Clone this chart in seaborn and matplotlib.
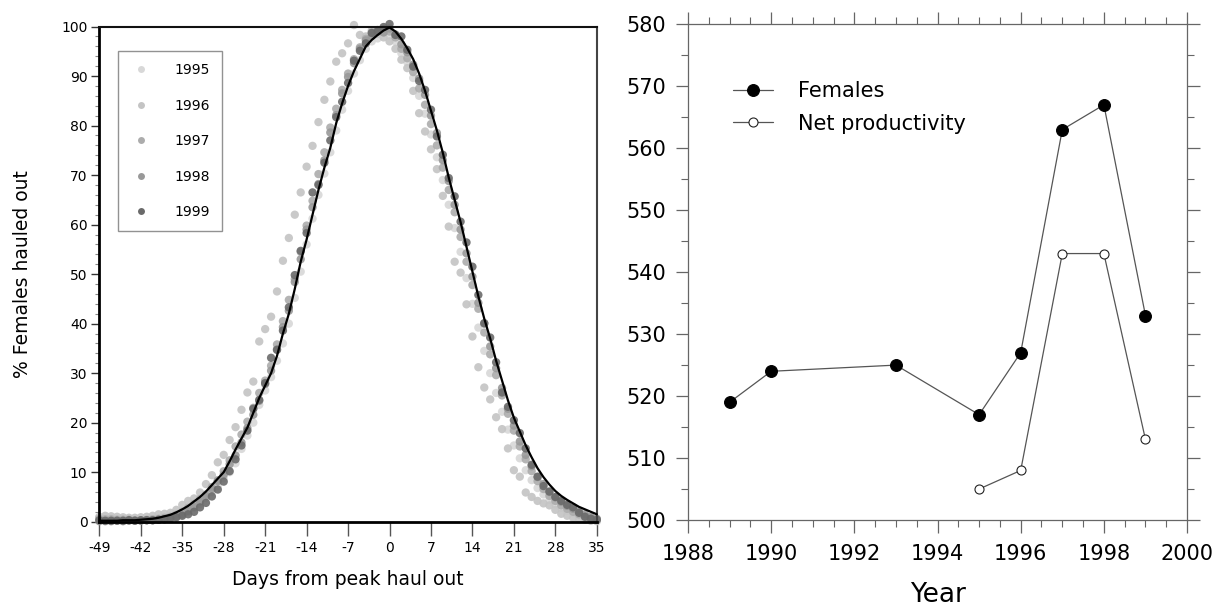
import matplotlib
matplotlib.use("Agg")
import matplotlib.pyplot as plt
from matplotlib.lines import Line2D
from matplotlib.ticker import MultipleLocator, FixedLocator
import numpy as np
import pandas as pd
import seaborn as sns

# ---------------- data ----------------
days = list(range(-49, 36))

mean_pct = [
    0.2, 0.2, 0.2, 0.2, 0.3, 0.3, 0.3, 0.4, 0.5, 0.6, 0.8, 1.1, 1.4, 1.9,
    2.5, 3.2, 4.1, 5.0, 6.1, 7.4, 8.7, 10.0, 12.2, 14.6, 16.8, 19.0, 22.0, 25.0,
    27.5, 30.0, 33.5, 38.0, 42.0, 47.0, 52.5, 57.0, 62.0, 67.0, 71.5, 75.5, 80.5, 84.5,
    88.0, 91.0, 93.5, 96.0, 97.3, 98.3, 99.2, 99.8, 99.0, 97.5, 95.6, 93.4, 90.5, 87.0,
    83.0, 79.0, 74.5, 69.5, 65.0, 60.5, 55.5, 50.5, 45.5, 41.0, 37.0, 32.5, 28.5, 24.5,
    21.0, 18.2, 15.4, 13.0, 10.8, 9.0, 7.5, 6.2, 5.2, 4.4, 3.7, 3.0, 2.5, 2.0, 1.5,
]

pct_1995 = [
    0.8, 0.9, 0.7, 0.6, 0.5, 0.5, 0.4, 0.3, 0.3, 0.3, 0.4, 0.5, 0.6, 0.9,
    1.4, 2.0, 2.8, 3.6, 4.8, 6.0, 7.2, 8.8, 10.0, 11.8, 14.7, 17.4, 20.0, 23.6,
    26.5, 29.2, 32.5, 36.0, 40.0, 45.2, 50.5, 56.0, 61.2, 66.0, 70.3, 74.6, 79.0, 83.2,
    87.0, 90.5, 93.2, 95.5, 97.0, 97.6, 98.8, 98.2, 97.0, 94.6, 92.8, 89.6, 86.0, 82.4,
    78.2, 73.6, 69.0, 64.0, 59.3, 54.5, 49.2, 44.0, 39.2, 34.5, 30.0, 26.0, 22.2, 18.6,
    15.4, 12.8, 10.4, 8.4, 6.8, 5.5, 4.4, 3.5, 2.8, 2.2, 1.7, 1.3, 0.9, 0.6, 0.4,
]

pct_1996 = [
    1.0, 1.2, 1.1, 1.0, 0.9, 0.8, 0.8, 0.9, 1.0, 1.2, 1.5, 1.6, 1.8, 2.4,
    3.4, 4.2, 4.7, 5.9, 7.6, 9.4, 12.0, 13.5, 16.5, 19.1, 22.6, 26.1, 28.3, 36.4,
    38.9, 41.4, 46.5, 52.7, 57.3, 62.0, 66.5, 71.7, 75.9, 80.7, 85.2, 88.9, 92.9, 94.6,
    96.6, 100.3, 98.3, 98.0, 99.2, 98.5, 97.8, 97.0, 95.5, 93.3, 91.6, 87.0, 82.5, 78.8,
    75.2, 71.2, 65.8, 59.6, 52.5, 50.3, 43.9, 37.4, 31.2, 27.1, 24.7, 21.1, 18.7, 14.8,
    10.4, 9.1, 5.9, 5.0, 4.2, 3.7, 3.3, 2.4, 1.6, 1.2, 0.8, 0.6, 0.4, 0.2, 0.1,
]

pct_1997 = [
    0.6, 0.5, 0.5, 0.4, 0.4, 0.4, 0.3, 0.3, 0.4, 0.5, 0.6, 0.8, 1.0, 1.4,
    2.0, 2.8, 3.6, 4.6, 5.5, 7.0, 8.4, 10.2, 12.4, 15.2, 17.6, 20.2, 23.0, 26.0,
    28.5, 31.5, 35.8, 40.5, 44.8, 49.0, 54.5, 59.8, 64.8, 70.2, 74.6, 79.6, 83.4, 87.2,
    90.5, 93.4, 95.8, 97.5, 98.8, 99.1, 99.5, 99.0, 97.8, 95.5, 93.6, 90.8, 87.5, 84.2,
    80.3, 76.0, 71.5, 67.0, 62.5, 57.5, 52.5, 47.8, 43.0, 38.2, 33.8, 29.6, 25.5, 21.8,
    18.4, 15.2, 12.6, 10.2, 8.2, 6.6, 5.2, 4.2, 3.3, 2.6, 2.0, 1.5, 1.0, 0.7, 0.4,
]

pct_1998 = [
    0.1, 0.1, 0.1, 0.2, 0.1, 0.2, 0.2, 0.2, 0.3, 0.3, 0.4, 0.5, 0.8, 1.0,
    1.5, 2.2, 3.0, 4.1, 5.2, 6.6, 8.2, 9.5, 11.6, 13.4, 16.0, 18.9, 21.6, 24.4,
    27.8, 30.5, 34.8, 39.3, 42.6, 48.4, 53.0, 59.0, 63.5, 68.2, 73.0, 78.6, 82.1, 86.5,
    89.8, 92.6, 95.5, 97.2, 98.1, 99.3, 98.8, 99.6, 98.4, 96.4, 94.8, 92.3, 89.5, 86.2,
    82.0, 78.5, 73.0, 68.8, 64.0, 59.0, 54.2, 49.5, 44.2, 40.0, 35.4, 31.0, 27.0, 22.8,
    19.4, 16.2, 13.5, 11.2, 9.0, 7.6, 6.0, 4.9, 4.0, 3.2, 2.6, 2.1, 1.5, 1.0, 0.6,
]

pct_1999 = [
    0.3, 0.2, 0.2, 0.2, 0.2, 0.3, 0.2, 0.3, 0.3, 0.3, 0.4, 0.5, 0.7, 0.9,
    1.2, 1.5, 2.0, 2.9, 3.8, 5.1, 6.5, 8.1, 10.2, 12.6, 15.4, 18.4, 22.8, 24.6,
    28.0, 33.1, 34.7, 38.6, 43.3, 49.8, 54.7, 58.3, 66.5, 68.0, 72.5, 77.0, 81.7, 84.8,
    88.6, 93.1, 95.1, 96.6, 98.7, 99.0, 99.9, 100.5, 98.3, 98.0, 95.3, 91.9, 89.0, 87.2,
    83.2, 77.8, 74.1, 69.4, 65.7, 60.6, 56.4, 51.5, 45.8, 40.1, 37.2, 32.2, 26.1, 23.2,
    20.5, 17.9, 14.8, 11.5, 9.1, 7.2, 6.1, 5.0, 4.2, 3.4, 2.9, 1.8, 1.0, 0.6, 0.4,
]

year_labels = ["1995", "1996", "1997", "1998", "1999"]
year_colors = ["#d8d8d8", "#c4c4c4", "#acacac", "#999999", "#6a6a6a"]

survey_years = [1989, 1990, 1993, 1995, 1996, 1997, 1998, 1999]
females = [519, 524, 525, 517, 527, 563, 567, 533]
prod_years = [1995, 1996, 1997, 1998, 1999]
net_productivity = [505, 508, 543, 543, 513]

day_ticks = [-49, -42, -35, -28, -21, -14, -7, 0, 7, 14, 21, 28, 35]

# ---------------- style ----------------
sns.set_style("white")
plt.rcParams["font.family"] = ["DejaVu Sans"]
plt.rcParams["axes.unicode_minus"] = False
plt.rcParams["text.color"] = "black"
plt.rcParams["axes.labelcolor"] = "black"

fig = plt.figure(figsize=(12.13, 6.07), dpi=100)
ax1 = fig.add_axes([0.0819, 0.1405, 0.4101, 0.8158])
ax2 = fig.add_axes([0.5672, 0.1433, 0.4114, 0.8167])

# ---------------- left panel: daily haul-out curves ----------------
haul = pd.DataFrame({
    "day": days * len(year_labels),
    "pct": pct_1995 + pct_1996 + pct_1997 + pct_1998 + pct_1999,
    "year": [y for y in year_labels for _ in days],
})
palette = dict(zip(year_labels, year_colors))
sns.scatterplot(data=haul, x="day", y="pct", hue="year", hue_order=year_labels,
                palette=palette, s=36, linewidth=0, alpha=0.9, legend=False,
                clip_on=False, zorder=2, ax=ax1)
sns.lineplot(x=days, y=mean_pct, color="black", linewidth=1.6, zorder=3,
             clip_on=False, ax=ax1)

ax1.set_xlim(-49, 35)
ax1.set_ylim(0, 100)
ax1.xaxis.set_major_locator(FixedLocator(day_ticks))
ax1.yaxis.set_major_locator(MultipleLocator(10))
ax1.yaxis.set_minor_locator(MultipleLocator(2))
ax1.tick_params(axis="x", which="major", direction="out", length=10, width=1,
                color="#555555", labelsize=10, labelcolor="black", pad=4,
                bottom=True)
ax1.tick_params(axis="y", which="major", direction="out", length=5.5, width=1,
                color="#333333", labelsize=10, labelcolor="black", pad=3,
                left=True)
ax1.tick_params(axis="y", which="minor", direction="out", length=3, width=0.8,
                color="#888888", left=True)
for side, lw, col in [("left", 2.0, "black"), ("bottom", 2.0, "black"),
                      ("top", 1.5, "#111111"), ("right", 1.5, "#444444")]:
    ax1.spines[side].set_visible(True)
    ax1.spines[side].set_linewidth(lw)
    ax1.spines[side].set_color(col)

ax1.set_xlabel("Days from peak haul out", fontsize=13.5)
ax1.set_ylabel("% Females hauled out", fontsize=13.5)
ax1.xaxis.set_label_coords(0.5, -0.098)
ax1.yaxis.set_label_coords(-0.135, 0.5)

year_handles = [Line2D([0], [0], linestyle="none", marker="o", markersize=5,
                       markerfacecolor=c, markeredgewidth=0) for c in year_colors]
leg1 = ax1.legend(year_handles, year_labels, loc="upper left",
                  bbox_to_anchor=(0.0376, 0.950), borderaxespad=0,
                  frameon=True, fancybox=False, edgecolor="#777777",
                  fontsize=10, handlelength=1.6, handletextpad=1.6,
                  labelspacing=1.55, borderpad=0.85)
leg1.get_frame().set_linewidth(1.0)

# ---------------- right panel: yearly counts ----------------
sns.lineplot(x=survey_years, y=females, color="#555555", linewidth=0.9,
             marker="o", markersize=8.5, markerfacecolor="black",
             markeredgecolor="black", markeredgewidth=0.8, label="Females",
             zorder=3, ax=ax2)
sns.lineplot(x=prod_years, y=net_productivity, color="#555555", linewidth=0.9,
             marker="o", markersize=6.5, markerfacecolor="white",
             markeredgecolor="#222222", markeredgewidth=0.8,
             label="Net productivity", zorder=3, ax=ax2)

ax2.set_xlim(1988, 2000)
ax2.set_ylim(500, 580)
ax2.xaxis.set_major_locator(MultipleLocator(2))
ax2.xaxis.set_minor_locator(MultipleLocator(0.5))
ax2.yaxis.set_major_locator(MultipleLocator(10))
ax2.yaxis.set_minor_locator(MultipleLocator(5))
ax2.tick_params(which="major", direction="out", length=9, width=0.9,
                color="#666666", labelsize=15, labelcolor="black", top=True,
                bottom=True, left=True, right=True)
ax2.tick_params(which="minor", direction="out", length=5, width=0.8,
                color="#666666", top=True, bottom=True, left=True, right=True)
ax2.tick_params(axis="x", pad=8)
ax2.tick_params(axis="y", pad=7)
for side in ["left", "right", "top", "bottom"]:
    ax2.spines[side].set_visible(True)
    ax2.spines[side].set_linewidth(0.9)
    ax2.spines[side].set_color("#666666")
ax2.set_xticklabels([f"{int(t)}" for t in ax2.get_xticks()])

ax2.set_xlabel("Year", fontsize=19)
ax2.set_ylabel("")
ax2.xaxis.set_label_coords(0.5, -0.125)

leg2 = ax2.legend(loc="upper left", bbox_to_anchor=(0.09, 0.885),
                  borderaxespad=0, frameon=False, fontsize=15,
                  handlelength=1.9, handletextpad=1.2, labelspacing=0.6,
                  borderpad=0)
for txt in leg2.get_texts():
    txt.set_color("black")

fig.savefig("out.png", dpi=100)
